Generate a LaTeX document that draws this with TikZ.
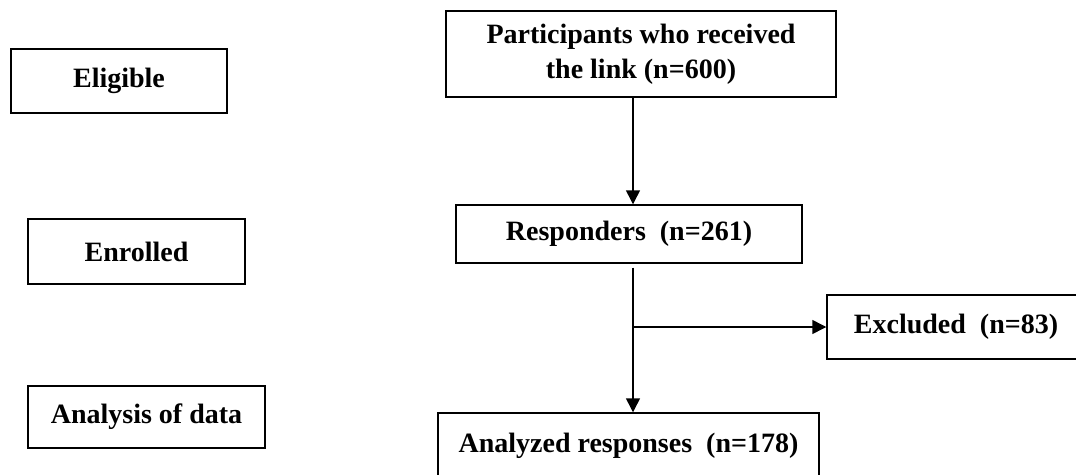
\documentclass[tikz,border=0pt]{standalone}
\usepackage{fontspec}
\setmainfont{Liberation Serif}
\usetikzlibrary{arrows.meta,calc}

\tikzset{
  stagebox/.style={draw, line width=1.1pt, inner sep=0pt, align=center,
    font=\fontsize{21}{26}\selectfont\bfseries},
  flowarrow/.style={line width=1.1pt, -{Triangle[width=10.5pt,length=10.5pt]}}
}

\begin{document}
\begin{tikzpicture}[x=0.75pt,y=-0.75pt]
\useasboundingbox (0,0) rectangle (1076,475);
\clip (0,0) rectangle (1076,475);
% stage labels
\node[stagebox, minimum width=162pt, minimum height=48pt] (eligible) at (119,81) {Eligible};
\node[stagebox, minimum width=162.75pt, minimum height=48.75pt] (enrolled) at (136.5,251.5) {Enrolled};
\node[stagebox, minimum width=177.75pt, minimum height=46.5pt] (analysis) at (146.5,417) {Analysis of data};
% participants
\node[stagebox, minimum width=292.5pt, minimum height=64.5pt] (part) at (641,54) {Participants who received\\the link (n=600)};
% responders
\node[stagebox, minimum width=259.5pt, minimum height=43.5pt] (resp) at (629,234) {Responders~ (n=261)};
\coordinate (trunk) at ([xshift=3pt]resp.south);
\draw[flowarrow] (part.south -| trunk) -- (resp.north -| trunk);
% excluded
\node[stagebox, minimum width=193.5pt, minimum height=48pt] (excl) at (956,327) {Excluded~ (n=83)};
% analyzed
\node[stagebox, minimum width=285.75pt, minimum height=48.75pt] (anal) at (628.5,445.5) {Analyzed responses~ (n=178)};
\draw[flowarrow] ([yshift=-3pt]trunk) -- (anal.north -| trunk);
\coordinate (split) at (excl.west -| trunk);
\draw[flowarrow] (split) -- (excl.west);
\end{tikzpicture}
\end{document}
